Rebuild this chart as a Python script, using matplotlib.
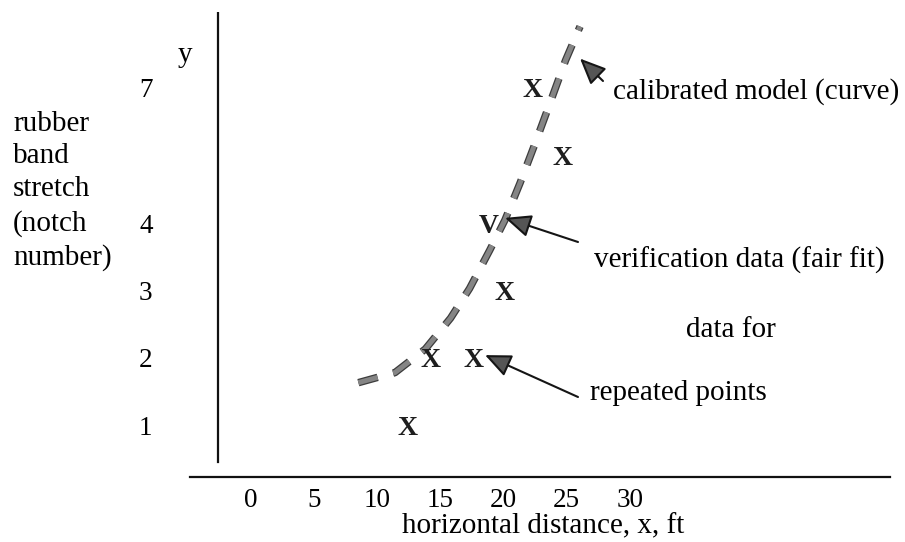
import numpy as np
import matplotlib
matplotlib.use("Agg")
import matplotlib.pyplot as plt
import matplotlib.patheffects as pe

plt.rcParams["font.family"] = ["Liberation Serif", "DejaVu Serif"]

# ---- data ----
x_ticks = [0, 5, 10, 15, 20, 25, 30]
y_ticks = [1, 2, 3, 4, 7]

# calibration data (X) and verification point (V)
cal_x = [12.4, 14.2, 17.6, 20.1, 24.7, 22.3]
cal_y = [1, 2, 2, 3, 5.5, 7]
ver_x = [18.8]
ver_y = [4]

# calibrated model curve
curve_x = [8.5, 11.4, 13.8, 15.8, 17.3, 18.9, 20.1, 21.3, 22.5, 23.7, 24.9, 26.05]
curve_y = [1.63, 1.78, 2.13, 2.59, 3.03, 3.60, 4.07, 4.89, 5.77, 6.68, 7.60, 8.35]

# ---- vertical scale: notches above 4 are drawn closer together ----
RATIO = 0.673


def fwd(v):
    v = np.asarray(v, dtype=float)
    return np.where(v <= 4, v, 4 + (v - 4) * RATIO)


def inv(p):
    p = np.asarray(p, dtype=float)
    return np.where(p <= 4, p, 4 + (p - 4) / RATIO)


W, H = 905, 542
fig = plt.figure(figsize=(W / 100, H / 100), dpi=100)
fig.patch.set_facecolor("white")

ax = fig.add_axes([190 / W, (H - 477) / H, 700 / W, 465 / H])
ax.set_yscale("function", functions=(fwd, inv))
ax.set_xlim(-4.83, 50.59)
ax.set_ylim(0.227, 8.67)

for s in ("top", "right", "left"):
    ax.spines[s].set_visible(False)
ax.spines["bottom"].set_linewidth(1.6)
ax.spines["bottom"].set_color("#111111")

# vertical axis line
ax.axvline(-2.61, ymin=0.032, ymax=1.0, color="#111111", lw=1.6)

FS = 21      # words
NS = 19.5    # numerals
ax.set_xticks(x_ticks)
ax.set_xticklabels([str(t) for t in x_ticks])
ax.set_yticks(y_ticks)
ax.set_yticklabels([str(t) for t in y_ticks])
ax.yaxis.set_minor_locator(matplotlib.ticker.NullLocator())
ax.xaxis.set_minor_locator(matplotlib.ticker.NullLocator())
ax.tick_params(axis="x", length=0, pad=8, labelsize=NS)
ax.tick_params(axis="y", length=0, pad=27, labelsize=NS)

ax.set_xlabel("horizontal distance, x, ft", fontsize=FS)
ax.xaxis.set_label_coords(0.504, -0.078)

# dashed model curve
ax.plot(curve_x, curve_y, color="#858585", lw=3.6, dashes=(4, 3.2),
        solid_capstyle="butt", dash_capstyle="butt",
        path_effects=[pe.Stroke(linewidth=5.4, foreground="#3c3c3c"), pe.Normal()])

# data marks
for xv, yv in zip(cal_x, cal_y):
    ax.text(xv, yv, "X", fontsize=20, fontweight="bold", ha="center",
            va="center_baseline", color="#1e1e1e")
for xv, yv in zip(ver_x, ver_y):
    ax.text(xv, yv, "V", fontsize=20, fontweight="bold", ha="center",
            va="center_baseline", color="#1e1e1e")

# pointer arrows
arrow_kw = dict(arrowstyle="-|>,head_length=1.6,head_width=0.7",
                mutation_scale=10, lw=1.5, edgecolor="#151515",
                facecolor="#555555", shrinkA=0, shrinkB=0)
ax.annotate("", xy=(26.05, 7.64), xytext=(603, H - 81),
            textcoords="figure pixels", arrowprops=arrow_kw)
ax.annotate("", xy=(20.11, 4.12), xytext=(578, H - 242),
            textcoords="figure pixels", arrowprops=arrow_kw)
ax.annotate("", xy=(18.53, 2.04), xytext=(578, H - 397),
            textcoords="figure pixels", arrowprops=arrow_kw)


def ftext(px, py, s, **kw):
    fig.text(px / W, 1 - py / H, s, fontsize=FS, va="baseline", **kw)


# annotations on the right
ftext(613, 99, "calibrated model (curve)")
ftext(594, 268, "verification data (fair fit)")
ftext(731, 337, "data for", ha="center")
ftext(590, 400, "repeated points")

# vertical axis title
ftext(185, 62, "y", ha="center")
for py, s in zip([131, 163, 196, 231, 265],
                 ["rubber", "band", "stretch", "(notch", "number)"]):
    ftext(13, py, s)

fig.savefig("out.png", dpi=100, facecolor="white")
